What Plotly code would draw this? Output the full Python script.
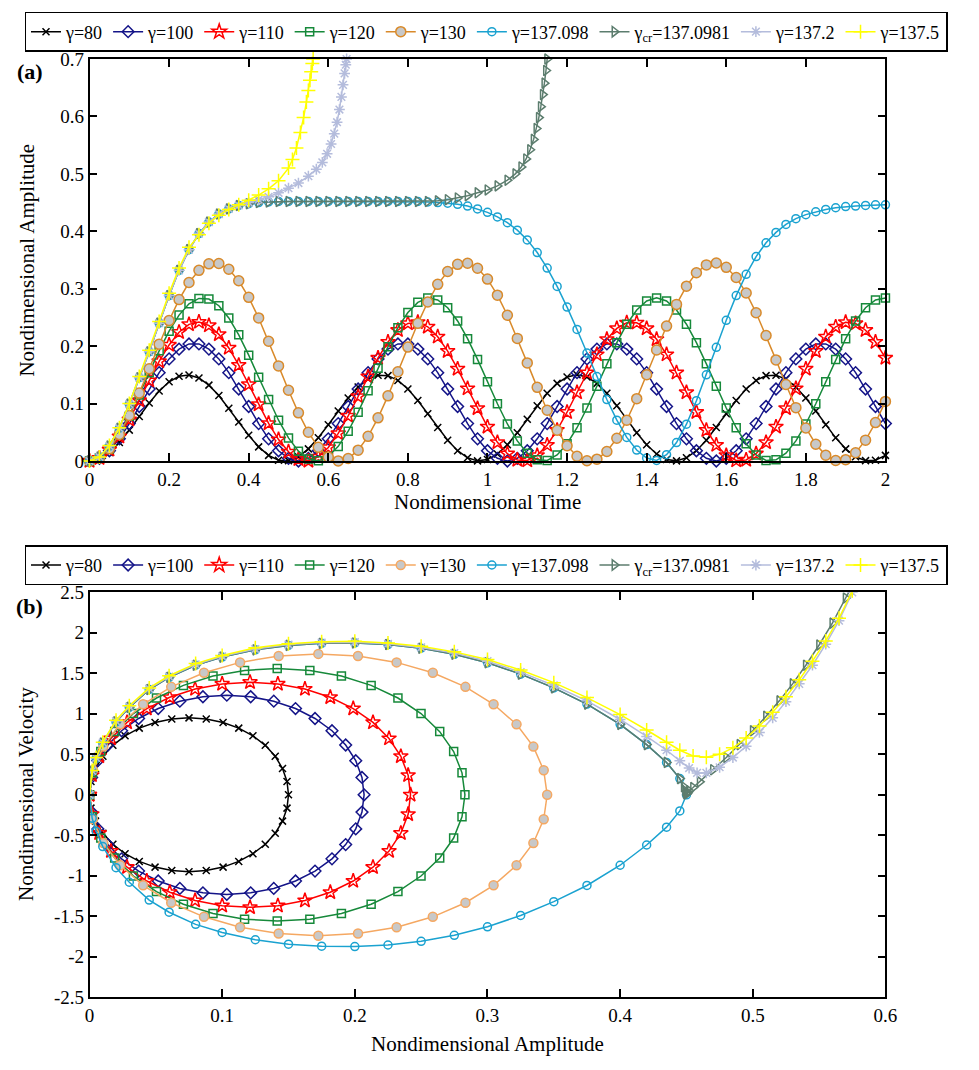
import plotly.graph_objects as go

# ---------------- data: panel (a) amplitude vs time ----------------
T_GRID = [round(0.025 * i, 3) for i in range(81)]

AMP_80 = [0, .0038, .0149, .0321, .0537, .0774, .1009, .1217, .1379, .1475,
          .1498, .1445, .1321, .1139, .0917, .0678, .0447, .0246, .0097, .0014,
          .0006, .0074, .0211, .0403, .0630, .0870, .1097, .1289, .1426, .1494,
          .1486, .1403, .1254, .1053, .0822, .0583, .0362, .0179, .0055, .0002,
          .0025, .0122, .0283, .0491, .0726, .0963, .1179, .1351, .1462, .1500,
          .1462, .1351, .1179, .0963, .0726, .0491, .0283, .0122, .0025, .0002,
          .0055, .0179, .0362, .0583, .0822, .1053, .1254, .1403, .1486, .1494,
          .1426, .1289, .1097, .0870, .0630, .0403, .0211, .0074, .0006, .0014,
          .0097]
AMP_100 = [0, .0046, .0178, .0386, .0651, .0949, .1253, .1538, .1777, .1948,
           .2038, .2038, .1948, .1777, .1538, .1253, .0949, .0651, .0386, .0178,
           .0046, 0, .0046, .0178, .0386, .0651, .0949, .1253, .1538, .1777,
           .1948, .2038, .2038, .1948, .1777, .1538, .1253, .0949, .0651, .0386,
           .0178, .0046, 0, .0046, .0178, .0386, .0651, .0949, .1253, .1538,
           .1777, .1948, .2038, .2038, .1948, .1777, .1538, .1253, .0949, .0651,
           .0386, .0178, .0046, 0, .0046, .0178, .0386, .0651, .0949, .1253,
           .1538, .1777, .1948, .2038, .2038, .1948, .1777, .1538, .1253, .0949,
           .0651]
AMP_110 = [0, .0051, .0196, .0425, .0719, .1054, .1401, .1733, .2021, .2243,
           .2379, .2420, .2360, .2205, .1968, .1669, .1332, .0985, .0656, .0373,
           .0160, .0032, .0002, .0072, .0235, .0480, .0784, .1123, .1469, .1795,
           .2071, .2277, .2395, .2415, .2336, .2163, .1913, .1604, .1262, .0917,
           .0595, .0324, .0127, .0018, .0008, .0098, .0278, .0537, .0849, .1193,
           .1537, .1854, .2119, .2308, .2407, .2407, .2308, .2119, .1854, .1537,
           .1193, .0849, .0537, .0278, .0098, .0008, .0018, .0127, .0324, .0595,
           .0917, .1262, .1604, .1913, .2163, .2336, .2415, .2395, .2277, .2071,
           .1795]
AMP_120 = [0, .0054, .0210, .0459, .0779, .1148, .1538, .1918, .2261, .2540,
           .2736, .2831, .2820, .2704, .2491, .2196, .1843, .1459, .1071, .0710,
           .0402, .0171, .0035, .0002, .0078, .0254, .0518, .0850, .1225, .1615,
           .1990, .2322, .2586, .2762, .2838, .2805, .2669, .2438, .2130, .1769,
           .1381, .0997, .0644, .0349, .0136, .0020, .0009, .0105, .0300, .0579,
           .0922, .1302, .1692, .2061, .2381, .2630, .2786, .2840, .2786, .2630,
           .2381, .2061, .1692, .1302, .0922, .0579, .0300, .0105, .0009, .0020,
           .0136, .0349, .0644, .0997, .1381, .1769, .2130, .2438, .2669, .2805,
           .2838]
AMP_130 = [0, .0053, .0211, .0463, .0794, .1182, .1605, .2034, .2445, .2810,
           .3108, .3320, .3433, .3439, .3339, .3138, .2850, .2491, .2084, .1656,
           .1232, .0838, .0500, .0237, .0068, .0001, .0042, .0188, .0429, .0751,
           .1134, .1553, .1983, .2397, .2769, .3076, .3299, .3424, .3444, .3357,
           .3167, .2888, .2537, .2135, .1708, .1282, .0883, .0536, .0264, .0083,
           .0003, .0031, .0165, .0395, .0709, .1085, .1501, .1932, .2349, .2727,
           .3044, .3278, .3415, .3448, .3372, .3195, .2926, .2582, .2185, .1760,
           .1332, .0929, .0575, .0292, .0099, .0008, .0023, .0144, .0363, .0668,
           .1037]
AMP_137098 = [0, .007, .026, .057, .099, .145, .19, .24, .288, .332,
              .368, .396, .416, .43, .439, .445, .448, .45, .451, .452,
              .452, .452, .452, .452, .452, .452, .452, .452, .452, .452,
              .452, .452, .452, .452, .451, .45, .449, .447, .444, .439,
              .433, .425, .415, .402, .385, .363, .336, .304, .268, .229,
              .188, .147, .107, .071, .041, .019, .005, .001, .011, .032,
              .064, .105, .15, .198, .245, .288, .325, .356, .38, .398,
              .412, .422, .429, .434, .438, .441, .443, .444, .445, .446,
              .446]

T_CR = [0, .025, .05, .075, .1, .125, .15, .175, .2, .225, .25, .275, .3, .325,
        .35, .375, .4, .425, .45, .475, .5, .525, .55, .575, .6, .625, .65, .675,
        .7, .725, .75, .775, .8, .825, .85, .875, .9, .925, .95, .975, 1.0, 1.025,
        1.05, 1.07, 1.085, 1.097, 1.107, 1.116, 1.123, 1.129, 1.134, 1.139,
        1.143, 1.147, 1.15]
AMP_CR = [0, .007, .026, .057, .099, .145, .19, .24, .288, .332, .368, .396,
          .416, .43, .439, .445, .448, .45, .451, .452, .452, .452, .452, .452,
          .452, .452, .452, .452, .452, .452, .452, .452, .452, .452, .452, .453,
          .455, .458, .462, .467, .472, .479, .489, .5, .512, .526, .542, .56,
          .579, .598, .617, .638, .658, .68, .7]

T_1372 = [0, .025, .05, .075, .1, .125, .15, .175, .2, .225, .25, .275, .3,
          .325, .35, .375, .4, .425, .45, .475, .5, .525, .55, .57, .585, .597,
          .607, .615, .622, .628, .633, .637, .641, .644, .646]
AMP_1372 = [0, .007, .026, .057, .099, .145, .19, .24, .288, .332, .368, .396,
            .416, .43, .439, .445, .45, .455, .46, .467, .475, .484, .496, .508,
            .52, .535, .552, .57, .59, .612, .634, .655, .675, .69, .7]

T_1375 = [0, .025, .05, .075, .1, .125, .15, .175, .2, .225, .25, .275, .3,
          .325, .35, .375, .4, .425, .45, .475, .5, .51, .52, .53, .538, .545,
          .55, .554, .557, .56, .562]
AMP_1375 = [0, .007, .027, .058, .1, .147, .193, .243, .292, .336, .372, .394,
            .414, .428, .438, .446, .454, .463, .474, .488, .51, .525, .545, .572,
            .598, .625, .645, .663, .678, .692, .7]

# ---------------- data: panel (b) velocity vs amplitude ----------------
PX_80 = [0, .0011, .0045, .0101, .0176, .0268, .0375, .0494, .0620, .0750, .0880,
         .1007, .1125, .1232, .1325, .1400, .1455, .1489, .1500, .1489, .1455,
         .1400, .1325, .1232, .1125, .1007, .0880, .0750, .0620, .0494, .0375,
         .0268, .0176, .0101, .0045, .0011, 0]
PV_80 = [0, .165, .325, .475, .611, .728, .823, .893, .936, .950, .936, .893,
         .823, .728, .611, .475, .325, .165, 0, -.165, -.325, -.475, -.611, -.728,
         -.823, -.893, -.936, -.950, -.936, -.893, -.823, -.728, -.611, -.475,
         -.325, -.165, 0]
PX_100 = [0, .0016, .0063, .0139, .0242, .0370, .0518, .0681, .0855, .1035, .1215,
          .1389, .1553, .1700, .1828, .1931, .2007, .2054, .2070, .2054, .2007,
          .1931, .1828, .1700, .1553, .1389, .1215, .1035, .0855, .0681, .0518,
          .0370, .0242, .0139, .0063, .0016, 0]
PV_100 = [0, .214, .421, .615, .791, .942, 1.065, 1.156, 1.211, 1.230, 1.211,
          1.156, 1.065, .942, .791, .615, .421, .214, 0, -.214, -.421, -.615,
          -.791, -.942, -1.065, -1.156, -1.211, -1.230, -1.211, -1.156, -1.065,
          -.942, -.791, -.615, -.421, -.214, 0]
PX_110 = [0, .0018, .0073, .0162, .0283, .0432, .0605, .0796, .1000, .1210, .1420,
          .1624, .1815, .1988, .2137, .2258, .2347, .2402, .2420, .2402, .2347,
          .2258, .2137, .1988, .1815, .1624, .1420, .1210, .1000, .0796, .0605,
          .0432, .0283, .0162, .0073, .0018, 0]
PV_110 = [0, .241, .475, .695, .894, 1.065, 1.204, 1.306, 1.369, 1.390, 1.369,
          1.306, 1.204, 1.065, .894, .695, .475, .241, 0, -.241, -.475, -.695,
          -.894, -1.065, -1.204, -1.306, -1.369, -1.390, -1.369, -1.306, -1.204,
          -1.065, -.894, -.695, -.475, -.241, 0]
PX_120 = [0, .0022, .0085, .0190, .0331, .0505, .0708, .0931, .1169, .1415, .1661,
          .1899, .2123, .2325, .2499, .2640, .2745, .2808, .2830, .2808, .2745,
          .2640, .2499, .2325, .2123, .1899, .1661, .1415, .1169, .0931, .0708,
          .0505, .0331, .0190, .0085, .0022, 0]
PV_120 = [0, .271, .534, .780, 1.003, 1.195, 1.351, 1.466, 1.536, 1.560, 1.536,
          1.466, 1.351, 1.195, 1.003, .780, .534, .271, 0, -.271, -.534, -.780,
          -1.003, -1.195, -1.351, -1.466, -1.536, -1.560, -1.536, -1.466, -1.351,
          -1.195, -1.003, -.780, -.534, -.271, 0]
PX_130 = [0, .0026, .0104, .0231, .0404, .0616, .0863, .1135, .1426, .1725, .2024,
          .2315, .2588, .2834, .3046, .3219, .3346, .3424, .3450, .3424, .3346,
          .3219, .3046, .2834, .2588, .2315, .2024, .1725, .1426, .1135, .0863,
          .0616, .0404, .0231, .0104, .0026, 0]
PV_130 = [0, .302, .595, .870, 1.118, 1.333, 1.507, 1.635, 1.714, 1.740, 1.714,
          1.635, 1.507, 1.333, 1.118, .870, .595, .302, 0, -.302, -.595, -.870,
          -1.118, -1.333, -1.507, -1.635, -1.714, -1.740, -1.714, -1.635, -1.507,
          -1.333, -1.118, -.870, -.595, -.302, 0]
PX_137098 = [0, .002, .005, .01, .02, .03, .045, .06, .08, .1, .125, .15, .175, .2,
             .225, .25, .275, .3, .325, .35, .375, .4, .42, .435, .445, .45, .445,
             .435, .42, .4, .375, .35, .325, .3, .275, .25, .225, .2, .175, .15,
             .125, .1, .08, .06, .045, .03, .02, .01, .005, .002, 0]
PV_137098 = [0, .29, .45, .64, .9, 1.08, 1.3, 1.45, 1.6, 1.7, 1.79, 1.845, 1.87,
             1.875, 1.855, 1.81, 1.735, 1.63, 1.49, 1.32, 1.12, .87, .62, .4, .2,
             0, -.2, -.4, -.62, -.87, -1.12, -1.32, -1.49, -1.63, -1.735, -1.81,
             -1.855, -1.875, -1.87, -1.845, -1.79, -1.7, -1.6, -1.45, -1.3, -1.08,
             -.9, -.64, -.45, -.29, 0]
PX_CR = [0, .002, .005, .01, .02, .03, .045, .06, .08, .1, .125, .15, .175, .2,
         .225, .25, .275, .3, .325, .35, .375, .4, .42, .435, .445, .448, .449,
         .4495, .45, .4505, .451, .452, .455, .46, .47, .48, .49, .5, .51, .52,
         .53, .54, .55, .56, .57, .575]
PV_CR = [0, .29, .45, .64, .9, 1.08, 1.3, 1.45, 1.6, 1.7, 1.79, 1.845, 1.87,
         1.875, 1.855, 1.81, 1.735, 1.63, 1.49, 1.32, 1.12, .87, .62, .4, .2, .1,
         .05, .02, .01, .015, .03, .05, .09, .16, .31, .46, .62, .79, .97, 1.16,
         1.37, 1.6, 1.85, 2.12, 2.43, 2.58]
PX_1372 = [0, .002, .005, .01, .02, .03, .045, .06, .08, .1, .125, .15, .175, .2,
           .225, .25, .275, .3, .325, .35, .375, .4, .42, .435, .445, .452, .458,
           .465, .475, .485, .495, .505, .515, .525, .535, .545, .555, .565, .575]
PV_1372 = [0, .295, .455, .645, .91, 1.09, 1.31, 1.46, 1.61, 1.71, 1.8, 1.855,
           1.88, 1.885, 1.865, 1.82, 1.75, 1.65, 1.515, 1.35, 1.16, .93, .72, .55,
           .42, .33, .27, .27, .34, .46, .6, .77, .95, 1.15, 1.37, 1.6, 1.86, 2.15,
           2.5]
PX_1375 = [0, .002, .005, .01, .02, .03, .045, .06, .08, .1, .125, .15, .175, .2,
           .225, .25, .275, .3, .325, .35, .375, .4, .42, .435, .445, .455, .465,
           .475, .485, .495, .505, .515, .525, .535, .545, .555, .565, .575]
PV_1375 = [0, .3, .46, .65, .92, 1.1, 1.32, 1.47, 1.62, 1.72, 1.815, 1.865, 1.89,
           1.895, 1.875, 1.835, 1.765, 1.67, 1.54, 1.385, 1.2, .99, .8, .65, .55,
           .48, .465, .5, .58, .7, .85, 1.02, 1.21, 1.42, 1.65, 1.9, 2.18, 2.52]

NAMES = ["γ=80", "γ=100", "γ=110", "γ=120", "γ=130", "γ=137.098",
         "γ<sub>cr</sub>=137.0981", "γ=137.2", "γ=137.5"]

TOP_X = [T_GRID, T_GRID, T_GRID, T_GRID, T_GRID, T_GRID, T_CR, T_1372, T_1375]
TOP_Y = [AMP_80, AMP_100, AMP_110, AMP_120, AMP_130, AMP_137098, AMP_CR, AMP_1372, AMP_1375]
BOT_X = [PX_80, PX_100, PX_110, PX_120, PX_130, PX_137098, PX_CR, PX_1372, PX_1375]
BOT_Y = [PV_80, PV_100, PV_110, PV_120, PV_130, PV_137098, PV_CR, PV_1372, PV_1375]

TOP_XTICKS = [0, 0.2, 0.4, 0.6, 0.8, 1, 1.2, 1.4, 1.6, 1.8, 2]
TOP_XTEXT = ["0", "0.2", "0.4", "0.6", "0.8", "1", "1.2", "1.4", "1.6", "1.8", "2"]
TOP_YTICKS = [0, 0.1, 0.2, 0.3, 0.4, 0.5, 0.6, 0.7]
TOP_YTEXT = ["0", "0.1", "0.2", "0.3", "0.4", "0.5", "0.6", "0.7"]
BOT_XTICKS = [0, 0.1, 0.2, 0.3, 0.4, 0.5, 0.6]
BOT_XTEXT = ["0", "0.1", "0.2", "0.3", "0.4", "0.5", "0.6"]
BOT_YTICKS = [-2.5, -2, -1.5, -1, -0.5, 0, 0.5, 1, 1.5, 2, 2.5]
BOT_YTEXT = ["-2.5", "-2", "-1.5", "-1", "-0.5", "0", "0.5", "1", "1.5", "2", "2.5"]

# ---------------- styles ----------------
FONT = "Liberation Serif, Times New Roman, serif"
STYLE_TOP = [
    dict(line="#000000", sym="x-thin", size=7, fill="#000000"),
    dict(line="#141488", sym="diamond-open", size=9, fill="#141488"),
    dict(line="#FF0000", sym="star-open", size=11, fill="#FF0000"),
    dict(line="#16893A", sym="square-open", size=8, fill="#16893A"),
    dict(line="#D98A2A", sym="circle", size=10, fill="#C8C8C8"),
    dict(line="#1AA2D0", sym="circle-open", size=8, fill="#1AA2D0"),
    dict(line="#5C7D6E", sym="triangle-right-open", size=9, fill="#5C7D6E"),
    dict(line="#B4BCDC", sym="asterisk-open", size=9, fill="#B4BCDC"),
    dict(line="#FFFF00", sym="cross-thin-open", size=10, fill="#FFFF00"),
]
STYLE_BOT = [dict(s) for s in STYLE_TOP]
STYLE_BOT[4] = dict(line="#F5A862", sym="circle", size=9, fill="#C8C8C8")

W, H = 979, 1070
XD = [86 / W, 896 / W]
TOP_YD = [1 - 460 / H, 1 - 50 / H]
BOT_YD = [1 - 1007 / H, 1 - 594 / H]

fig = go.Figure()


def add(xs, ys, name, st, xa, ya, leg, clip):
    fig.add_trace(go.Scatter(
        x=xs, y=ys, name=name, mode="lines+markers", xaxis=xa, yaxis=ya,
        legend=leg, cliponaxis=clip,
        line=dict(color=st["line"], width=1.5),
        marker=dict(symbol=st["sym"], size=st["size"], color=st["fill"],
                    line=dict(color=st["line"], width=1.5)),
    ))


for i in range(9):
    add(TOP_X[i], TOP_Y[i], NAMES[i], STYLE_TOP[i], "x", "y", "legend", False)
for i in range(9):
    add(BOT_X[i], BOT_Y[i], NAMES[i], STYLE_BOT[i], "x2", "y2", "legend2", True)

axis_common = dict(showline=True, linecolor="black", linewidth=1.5, mirror="ticks",
                   ticks="inside", ticklen=8, tickwidth=1.5, tickcolor="black",
                   showgrid=False, zeroline=False,
                   tickfont=dict(family=FONT, size=19, color="black"))

legend_common = dict(orientation="h", x=0.5, xanchor="center", yanchor="top",
                     bordercolor="black", borderwidth=1.5,
                     bgcolor="rgba(255,255,255,0)",
                     itemwidth=30, tracegroupgap=0,
                     font=dict(family=FONT, size=18, color="black"))

fig.update_layout(
    width=W, height=H, margin=dict(l=0, r=0, t=0, b=0),
    paper_bgcolor="white", plot_bgcolor="white",
    font=dict(family=FONT, color="black"),
    xaxis=dict(domain=XD, range=[0, 2], anchor="y", tickvals=TOP_XTICKS,
               ticktext=TOP_XTEXT, **axis_common),
    yaxis=dict(domain=TOP_YD, range=[0, 0.7], anchor="x", tickvals=TOP_YTICKS,
               ticktext=TOP_YTEXT, **axis_common),
    xaxis2=dict(domain=XD, range=[0, 0.6], anchor="y2", tickvals=BOT_XTICKS,
                ticktext=BOT_XTEXT, **axis_common),
    yaxis2=dict(domain=BOT_YD, range=[-2.5, 2.5], anchor="x2", tickvals=BOT_YTICKS,
                ticktext=BOT_YTEXT, **axis_common),
    legend=dict(y=1 - 2 / H, **legend_common),
    legend2=dict(y=1 - 546 / H, **legend_common),
    showlegend=True,
)

ann = [
    dict(text="Nondimensional Time", x=491 / W, y=1 - 502 / H, size=21, angle=0),
    dict(text="Nondimensional Amplitude", x=22 / W, y=1 - 255 / H, size=21, angle=-90),
    dict(text="Nondimensional Amplitude", x=491 / W, y=1 - 1055 / H, size=21, angle=0),
    dict(text="Nondimensional Velocity", x=22 / W, y=1 - 800 / H, size=21, angle=-90),
    dict(text="<b>(a)</b>", x=25 / W, y=1 - 63 / H, size=22, angle=0),
    dict(text="<b>(b)</b>", x=25 / W, y=1 - 608 / H, size=22, angle=0),
]
for a in ann:
    fig.add_annotation(text=a["text"], x=a["x"], y=a["y"], xref="paper", yref="paper",
                       xanchor="center", yanchor="middle", showarrow=False,
                       textangle=a["angle"],
                       font=dict(family=FONT, size=a["size"], color="black"))

fig.write_html("out.html")
